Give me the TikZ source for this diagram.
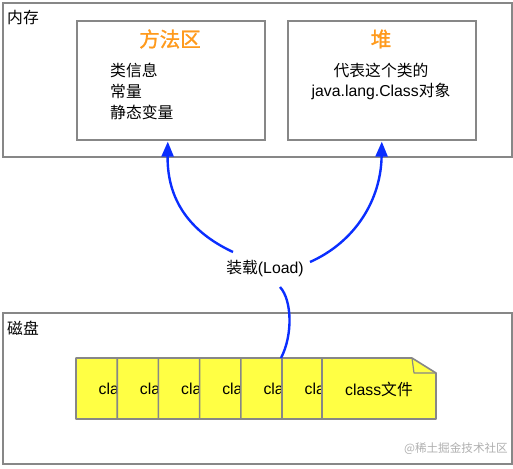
\documentclass[tikz,border=0pt]{standalone}
\usepackage{fontspec}
\setmainfont{Liberation Sans}
\newfontfamily\cjk{Noto Sans CJK SC}
\newfontfamily\cjkb[FakeBold=1.2]{Noto Sans CJK SC}
\usetikzlibrary{arrows.meta}
\definecolor{bord}{HTML}{878787}
\definecolor{arrowblue}{HTML}{0A2EFF}
\definecolor{titleor}{HTML}{FF9A1C}
\definecolor{noteyellow}{HTML}{FFFF44}
\definecolor{wm}{HTML}{AFAFAF}
\tikzset{
  panel/.style={draw=bord, line width=1.6pt, anchor=north west, inner sep=0pt},
  body/.style={font=\fontsize{15.8}{19}\selectfont, inner sep=0pt},
  title/.style={font=\cjkb\fontsize{20.5}{24}\selectfont, text=titleor, inner sep=0pt},
  arr/.style={draw=arrowblue, line width=2.4pt, -{Triangle[width=12pt,length=15pt]}},
  seg/.style={draw=arrowblue, line width=2.4pt},
  note/.style={fill=noteyellow, draw=bord, line width=1.6pt, line join=round},
}
\begin{document}
\begin{tikzpicture}[x=1pt,y=-1pt]
\useasboundingbox (0,0) rectangle (513,468);
% memory panel
\node[panel, minimum width=509pt, minimum height=154pt] (mem) at (2,2) {};
\node[body, anchor=west] (memlabel) at (7,18) {\cjk 内存};
% method area
\node[panel, minimum width=188pt, minimum height=119pt] (method) at (76,20) {};
\node[title] (methodtitle) at (170,39) {方法区};
\node[body, anchor=west] (m1) at (110,70) {\cjk 类信息};
\node[body, anchor=west] (m2) at (110,91) {\cjk 常量};
\node[body, anchor=west] (m3) at (110,112) {\cjk 静态变量};
% heap
\node[panel, minimum width=188pt, minimum height=119pt] (heap) at (287,20) {};
\node[title] (heaptitle) at (381,39) {堆};
\node[body] (h1) at (381,70) {\cjk 代表这个类的};
\node[body] (h2) at (381,91) {java.lang.Class{\cjk 对象}};
% disk panel
\node[panel, minimum width=509pt, minimum height=151pt] (disk) at (2,312) {};
\node[body, anchor=west] (disklabel) at (7,328) {\cjk 磁盘};
% class files (covered ones show only their visible strip)
\foreach \i in {0,...,5} {
  \pgfmathsetmacro{\xx}{76+41.2*\i}
  \path[note] (\xx,358) -- (\xx+90,358) -- (\xx+114,373) -- (\xx+114,419) -- (\xx,419) -- cycle;
  \begin{scope}
    \clip (\xx,358) rectangle (\xx+41.2,419);
    \node[body, anchor=west] (cf\i) at (\xx+22.5,389) {cla};
  \end{scope}
}
\path[note] (322,358) -- (412,358) -- (436,373) -- (436,419) -- (322,419) -- cycle;
\draw[bord, line width=1.2pt, line join=round] (412,358) -- (414,373) -- (436,373);
\node[body] (cf6) at (379,389) {class{\cjk 文件}};
% load label and connectors
\node[body] (load) at (265,268) {{\cjk 装载}(Load)};
\coordinate (ls) at (233,252);
\coordinate (rs) at (310,262);
\coordinate (lt) at (280,287);
\coordinate (cs) at (281,358);
\draw[seg] (cs) .. controls (293,335) and (292,300) .. (lt);
\draw[arr] (ls) .. controls (190,232) and (167,200) .. ([xshift=-3pt,yshift=-1pt]method.south);
\draw[arr] (rs) .. controls (355,242) and (381,200) .. ([yshift=-1pt]heap.south);
% watermark
\node[inner sep=0pt, text=wm, font=\cjk\fontsize{11.6}{13}\selectfont, anchor=east] (wmk) at (508,449) {@稀土掘金技术社区};
\end{tikzpicture}
\end{document}
